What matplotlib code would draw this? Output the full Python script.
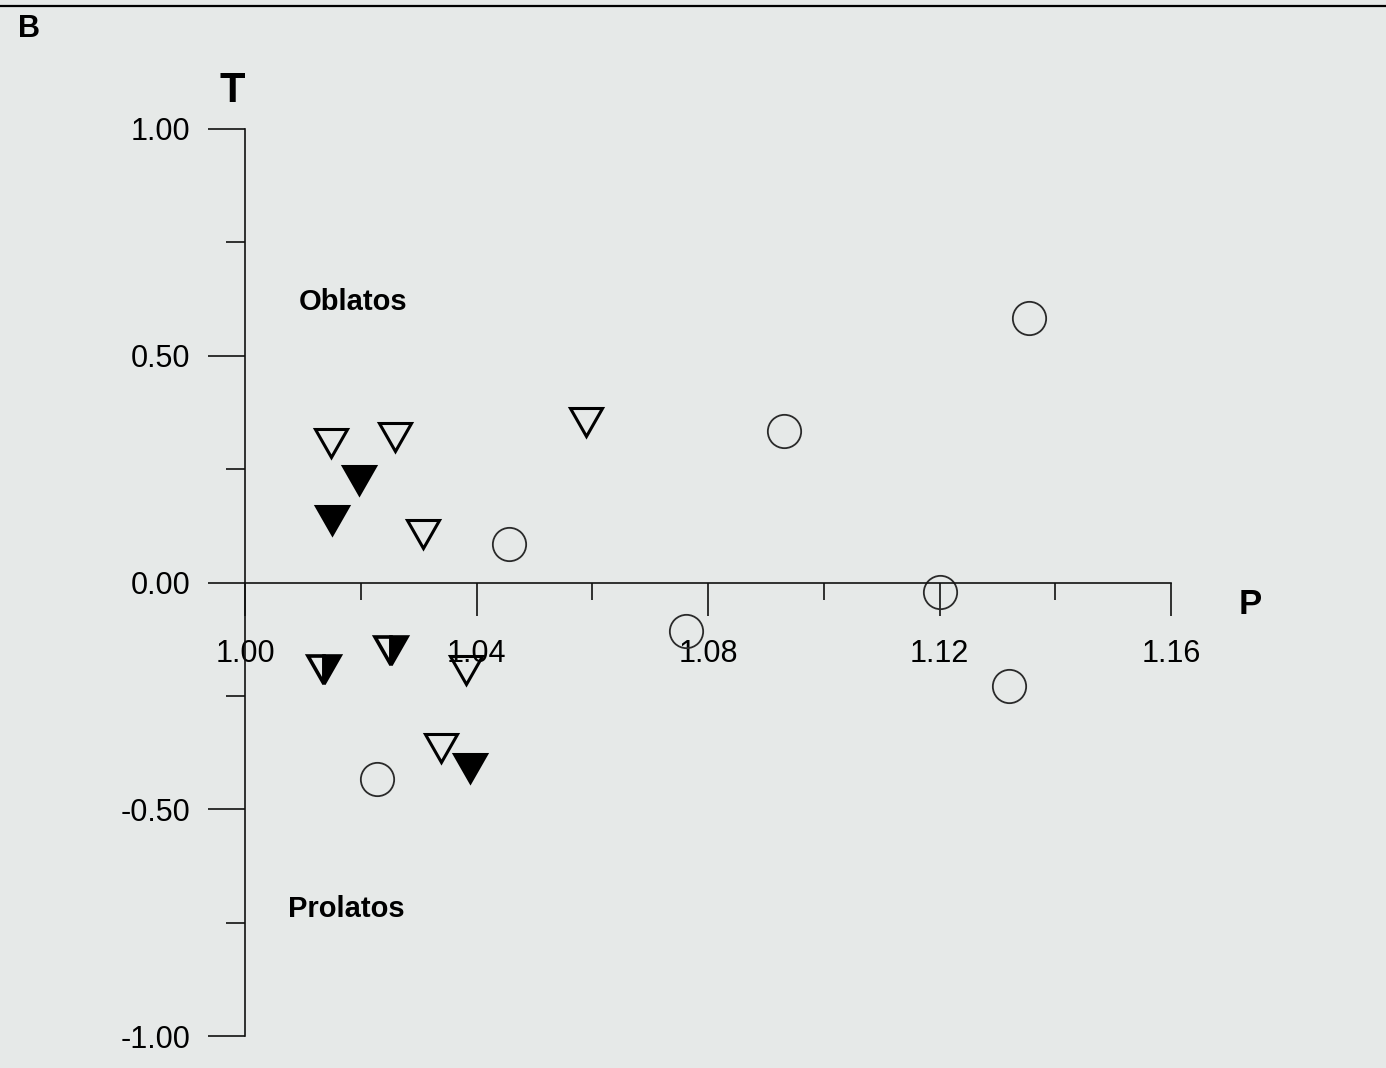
import matplotlib
matplotlib.use("Agg")
import matplotlib.pyplot as plt
from matplotlib.markers import MarkerStyle
from matplotlib.transforms import Affine2D
from matplotlib.lines import Line2D
from matplotlib.ticker import FixedLocator, FixedFormatter

plt.rcParams['font.family'] = ['Liberation Sans', 'DejaVu Sans']

# Degree of anisotropy P versus shape parameter T
open_tri_P = [1.0149, 1.0259, 1.0589, 1.0307, 1.0382, 1.0338]
open_tri_T = [0.307, 0.320, 0.355, 0.106, -0.192, -0.366]

filled_tri_P = [1.0197, 1.0150, 1.0388]
filled_tri_T = [0.227, 0.137, -0.408]

half_tri_P = [1.0136, 1.0253]
half_tri_T = [-0.194, -0.151]

circle_P = [1.0457, 1.0931, 1.1354, 1.1200, 1.1320, 1.0762, 1.0228]
circle_T = [0.085, 0.335, 0.583, -0.020, -0.229, -0.108, -0.434]

x_major = [1.00, 1.04, 1.08, 1.12, 1.16]
x_minor = [1.02, 1.06, 1.10, 1.14]
x_labels = ["1.00", "1.04", "1.08", "1.12", "1.16"]
y_major = [-1.0, -0.5, 0.0, 0.5, 1.0]
y_minor = [-0.75, -0.25, 0.25, 0.75]
y_labels = ["-1.00", "-0.50", "0.00", "0.50", "1.00"]

W, H = 1386, 1068
bg = '#e6e9e8'
fig = plt.figure(figsize=(W / 100, H / 100), dpi=100, facecolor=bg)

left_px, right_px, top_px, bottom_px = 245, 1171, 129, 1036
ax = fig.add_axes([left_px / W, (H - bottom_px) / H,
                   (right_px - left_px) / W, (bottom_px - top_px) / H])
ax.set_facecolor('none')
ax.set_xlim(1.00, 1.16)
ax.set_ylim(-1.0, 1.0)

for side in ('top', 'right'):
    ax.spines[side].set_visible(False)
ax.spines['bottom'].set_position(('data', 0.0))
for side in ('left', 'bottom'):
    ax.spines[side].set_linewidth(1.2)
    ax.spines[side].set_color('#111111')

ax.xaxis.set_major_locator(FixedLocator(x_major))
ax.xaxis.set_major_formatter(FixedFormatter(x_labels))
ax.xaxis.set_minor_locator(FixedLocator(x_minor))
ax.yaxis.set_major_locator(FixedLocator(y_major))
ax.yaxis.set_major_formatter(FixedFormatter(y_labels))
ax.yaxis.set_minor_locator(FixedLocator(y_minor))

ax.tick_params(axis='x', which='major', direction='out', length=24, width=1.2,
               pad=17, labelsize=22, color='#111111')
ax.tick_params(axis='x', which='minor', direction='out', length=12, width=1.2,
               color='#111111')
ax.tick_params(axis='y', which='major', direction='out', length=26.5, width=1.2,
               pad=13, labelsize=22, color='#111111')
ax.tick_params(axis='y', which='minor', direction='out', length=13.5, width=1.2,
               color='#111111')

squash = Affine2D().scale(1.0, 0.85)
tri_open = MarkerStyle('v', fillstyle='full', transform=squash)
tri_full = MarkerStyle('v', fillstyle='full', transform=squash)
tri_half = MarkerStyle('v', fillstyle='right', transform=squash)

ax.plot(open_tri_P, open_tri_T, linestyle='none', marker=tri_open,
        markersize=23.5, markerfacecolor='none', markeredgecolor='black',
        markeredgewidth=2.2, clip_on=False)
ax.plot(filled_tri_P, filled_tri_T, linestyle='none', marker=tri_full,
        markersize=23.5, markerfacecolor='black', markeredgecolor='black',
        markeredgewidth=2.2, clip_on=False)
ax.plot(half_tri_P, half_tri_T, linestyle='none', marker=tri_half,
        markersize=23.5, markerfacecolor='black', markerfacecoloralt='none',
        markeredgecolor='black', markeredgewidth=2.6, clip_on=False)
ax.plot(circle_P, circle_T, linestyle='none', marker='o',
        markersize=24, markerfacecolor='none', markeredgecolor='#2a2a2a',
        markeredgewidth=1.3, clip_on=False)

ax.text(1.0187, 0.60, "Oblatos", fontsize=21, fontweight='bold',
        ha='center', va='baseline')
ax.text(1.0175, -0.737, "Prolatos", fontsize=21, fontweight='bold',
        ha='center', va='baseline')

fig.text(232 / W, 1 - 102 / H, "T", fontsize=30, fontweight='bold',
         ha='center', va='baseline')
fig.text(1250 / W, 1 - 614 / H, "P", fontsize=25, fontweight='bold',
         ha='center', va='baseline')
fig.text(18 / W, 1 - 37 / H, "B", fontsize=22, fontweight='bold',
         ha='left', va='baseline')

fig.add_artist(Line2D([0, 1], [1 - 6 / H, 1 - 6 / H], transform=fig.transFigure,
                      color='black', linewidth=1.6))

fig.savefig("out.png", dpi=100, facecolor=bg)
